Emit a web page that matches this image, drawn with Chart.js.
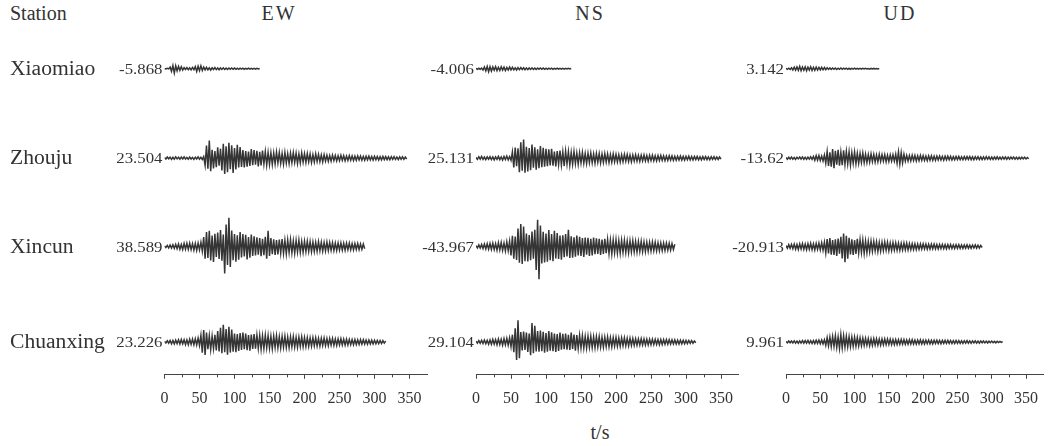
<!DOCTYPE html>
<html>
<head>
<meta charset="utf-8">
<script src="https://cdn.jsdelivr.net/npm/chart.js@4.4.0/dist/chart.umd.min.js"></script>
<style>
  body { margin: 0; background: #fff; width: 1048px; height: 446px; position: relative; overflow: hidden;
         font-family: "Liberation Serif", serif; color: #333; }
  .panel { position: absolute; top: 0; height: 446px; }
  .hdr { position: absolute; font-size: 20px; line-height: 20px; white-space: nowrap; }
  .mid { transform: translateX(-50%); letter-spacing: 2px; }
</style>
</head>
<body>
<div class="hdr" style="left:10px;top:3px;">Station</div>
<div class="hdr mid" style="left:279px;top:3px;">EW</div>
<div class="hdr mid" style="left:590px;top:3px;">NS</div>
<div class="hdr mid" style="left:900px;top:3px;">UD</div>
<div class="hdr mid" style="left:600px;top:422px;letter-spacing:0;">t/s</div>

<div class="panel" style="left:0;width:440px;"><canvas id="ewChart"></canvas></div>
<div class="panel" style="left:400px;width:350px;"><canvas id="nsChart"></canvas></div>
<div class="panel" style="left:720px;width:328px;"><canvas id="udChart"></canvas></div>

<script>
const DT = 2;
const tickStep = 50;

const stations = ['Xiaomiao', 'Zhouju', 'Xincun', 'Chuanxing'];
const ewPeaks = ['-5.868', '23.504', '38.589', '23.226'];
const nsPeaks = ['-4.006', '25.131', '-43.967', '29.104'];
const udPeaks = ['3.142', '-13.62', '-20.913', '9.961'];

// acceleration traces, cm/s2, one value every DT seconds
const ewXiaomiao = [0.3,-0.4,0.5,-0.3,
  2.1,-3.4,4.2,-5.868,3.9,-2.8,3.1,-2.2,2.6,-1.9,
  1.4,-1.1,1.6,-1.3,1.2,-1.5,1.8,-1.2,
  2.9,-3.6,3.3,-2.7,3.8,-2.4,2.2,
  -1.6,1.9,-1.4,1.2,-1.7,1.3,-1.1,1.5,-1.2,1.0,-1.3,1.1,-0.9,1.2,-1.0,0.8,-1.1,0.9,-0.8,1.0,
  -0.7,0.9,-0.8,0.6,-0.9,0.7,-0.6,0.8,-0.7,0.5,-0.6,0.7,-0.5,0.6,-0.5,0.4,-0.6,0.5,-0.4,0.3];
const ewZhouju = [0.8,-1.2,1.5,-0.9,1.3,-1.6,1.1,-1.4,1.7,-1.0,1.2,-1.5,1.4,-1.1,1.6,-1.3,0.9,-1.4,1.5,-1.2,
  1.0,-1.6,1.3,-1.1,1.8,-1.4,1.2,-1.7,2.1,
  -9.5,16.8,-14.2,23.504,-17.6,
  11.3,-13.8,9.6,-12.1,14.5,-10.2,12.7,
  -16.4,19.3,-21.2,15.8,-18.7,20.6,-14.9,17.2,-19.8,13.6,-15.1,17.9,-12.4,14.8,-11.7,
  10.9,-12.3,9.4,-11.6,8.7,-10.5,12.1,-9.3,10.8,-8.6,9.9,-11.2,8.4,-9.7,10.3,-7.9,8.8,-9.1,7.6,-8.3,
  7.2,-8.5,6.9,-7.8,8.1,-6.4,7.5,-7.1,6.2,-8.0,7.7,-6.6,5.9,-7.3,6.8,-6.1,7.4,-5.8,6.5,-7.0,5.6,-6.3,6.9,-5.4,6.0,
  -5.7,6.2,-4.9,5.5,-6.0,4.7,-5.2,5.8,-4.5,5.1,-4.8,4.3,-5.0,4.6,-4.1,
  3.8,-4.2,3.5,-3.9,4.0,-3.3,3.6,-3.7,3.1,-3.4,3.8,-2.9,3.3,-3.5,2.8,-3.1,3.4,-2.7,3.0,-3.2,
  2.6,-2.9,3.1,-2.5,2.8,-2.7,2.4,-2.9,2.6,-2.3,2.7,-2.4,2.2,-2.6,2.5,-2.1,2.3,-2.4,2.0,-2.2,
  2.4,-1.9,2.1,-2.0,1.8,-2.1,1.9,-1.7,2.0,-1.8,1.6,-1.9,1.7,-1.5,1.8,-1.6,1.4,-1.2];
const ewXincun = [0.9,-1.3,1.6,-1.8,2.2,-1.9,2.6,-2.4,3.1,-2.8,3.4,-3.6,2.9,-3.9,4.2,-3.5,4.4,-3.8,4.6,-4.1,
  3.9,-4.7,4.3,-5.0,4.8,-4.4,5.6,-6.2,
  12.8,-16.4,19.7,-15.2,21.3,-18.6,14.9,-20.5,17.1,-13.8,18.9,-16.6,22.4,-19.1,16.3,
  -36.2,29.8,-24.5,38.589,-27.3,
  21.6,-18.4,16.9,-20.2,15.3,-17.7,19.4,-14.6,16.8,-13.2,15.7,-17.1,12.9,-14.8,16.2,-12.4,13.7,-11.8,
  12.5,-10.9,11.6,-12.8,10.3,-11.4,13.2,
  -16.2,21.1,-12.7,
  11.4,-10.1,9.8,-11.2,8.9,-10.4,9.6,-8.7,10.2,-9.1,8.3,-9.8,8.8,-7.9,9.3,-8.4,7.6,-8.9,8.1,-7.3,8.6,-7.7,6.9,-7.5,7.2,
  -6.8,7.1,-6.4,6.7,-6.9,6.1,-6.5,5.8,-6.2,6.4,-5.6,6.0,-5.9,5.4,-5.7,5.9,-5.2,5.5,-5.0,5.3,
  -5.4,4.8,-5.1,4.9,-4.6,5.0,-4.7,4.4,-4.8,4.5,-4.2,4.6,-4.3,4.0,-4.4,4.1,-3.8,4.2,-3.9,3.6,-3.7,3.4,-2.8];
const ewChuanxing = [0.9,-1.4,1.8,-1.6,2.1,-2.4,2.0,-2.7,2.5,-2.2,3.0,-2.8,3.3,-2.6,3.1,-3.4,2.9,-3.6,3.8,-3.2,
  4.0,-3.7,4.3,-4.0,5.1,-4.6,
  8.7,-14.2,16.1,-17.4,12.8,
  -9.6,8.4,-10.1,7.9,-8.8,9.5,-11.3,
  14.7,-12.6,18.9,-15.1,23.226,-13.8,17.5,-16.9,20.3,-14.2,16.6,
  -12.9,11.4,-13.6,10.8,-12.1,11.9,-10.5,12.7,-9.8,11.2,-10.9,9.4,-11.6,10.1,-9.2,10.6,-8.8,
  9.3,-8.4,8.9,-9.6,8.1,-8.7,9.2,-7.8,8.5,-8.2,7.6,-8.9,7.9,-7.3,8.4,-7.7,7.1,-8.0,7.5,-6.9,
  7.8,-7.2,6.6,-7.4,7.0,-6.4,7.2,-6.7,6.2,-6.9,6.5,-6.0,6.7,-6.2,5.8,
  -6.1,5.7,-5.9,5.4,-5.6,5.8,-5.1,5.5,-5.3,4.9,-5.4,5.0,-4.7,5.2,-4.8,4.5,-5.0,4.6,-4.3,4.8,
  -4.4,4.1,-4.6,4.2,-3.9,4.4,-4.0,3.8,-4.1,3.7,
  -3.8,3.5,-3.6,3.3,-3.5,3.2,-3.4,3.0,-3.2,3.1,-2.9,3.0,-2.8,2.7,-2.9,2.6,-2.7,2.5,-2.6,2.3,
  -2.4,2.2,-2.3,2.0,-2.1,1.8,-1.5,1.1];

const nsXiaomiao = [0.5,-0.7,0.6,-0.8,0.9,
  -1.8,2.3,-2.9,3.1,-4.006,2.7,-3.2,2.4,-2.1,2.8,-2.5,1.9,-2.3,2.6,-1.8,2.1,-2.4,1.7,-1.9,2.2,
  -1.6,1.8,-1.5,1.3,-1.7,
  1.4,-1.2,1.5,-1.1,1.3,-1.4,1.0,-1.2,1.1,-0.9,1.2,-1.0,0.8,-1.1,0.9,-0.8,1.0,-0.7,0.9,-0.8,
  0.6,-0.9,0.7,-0.6,0.8,-0.7,0.5,-0.6,0.7,-0.5,0.6,-0.5,0.4,-0.6,0.5,-0.4,0.5,-0.3,0.4];
const nsZhouju = [1.1,-1.6,1.9,-1.3,2.2,-1.8,1.5,-2.1,1.7,-1.4,2.0,-1.9,1.6,-2.3,1.8,-1.5,2.4,-2.0,1.7,-2.6,
  2.2,-1.9,2.8,-2.4,2.1,-3.0,
  8.4,-12.6,14.1,-10.8,13.2,
  -18.9,21.4,-16.7,25.131,-19.5,
  15.2,-17.8,13.6,-16.1,18.3,-12.9,14.7,-15.5,11.8,-13.4,16.2,-12.1,13.9,-11.3,12.6,
  -10.7,11.9,-9.8,12.4,-10.2,8.9,-11.1,9.6,-8.4,10.3,-9.1,8.2,-10.6,9.4,-7.8,8.7,-9.3,7.5,-8.1,8.8,
  -7.4,6.9,-8.0,7.2,-6.5,7.7,-6.8,6.1,-7.3,6.6,-5.9,7.0,-6.2,5.7,-6.7,6.3,-5.5,6.0,-6.4,5.3,
  -5.8,6.1,-5.1,5.6,-5.9,4.9,-5.4,5.7,-4.8,5.2,
  -5.0,4.6,-5.3,4.4,-4.7,5.1,-4.2,4.8,-4.5,4.1,-4.9,4.3,-3.9,4.6,-4.1,3.8,-4.4,4.0,-3.6,4.2,
  -3.8,3.5,-4.0,3.7,-3.3,3.9,-3.5,3.2,-3.6,3.4,
  -3.1,3.5,-2.9,3.2,-3.3,2.8,-3.0,3.1,-2.6,2.9,-3.0,2.5,-2.8,2.7,-2.4,2.9,-2.6,2.3,-2.7,2.5,
  -2.2,2.6,-2.4,2.1,-2.5,2.3,-2.0,2.4,-2.2,1.9,-2.3,2.1,-1.8,2.2,-2.0,1.7,-2.1,1.9,-1.6,2.0,
  -1.8,1.5,-1.7,1.6,-1.2];
const nsXincun = [1.2,-1.8,2.3,-2.0,2.9,-2.6,3.4,-3.1,3.8,-3.5,4.2,-3.7,4.6,-4.1,3.9,-4.8,5.2,-4.4,5.7,-5.0,
  4.8,-5.9,6.3,-5.4,7.1,
  -11.8,14.6,-16.2,13.4,-17.9,
  24.3,-21.7,30.2,-23.4,26.8,-19.6,
  17.4,-19.8,15.6,-18.2,20.1,-16.4,22.7,
  -31.5,36.1,-43.967,28.4,
  -22.6,19.8,-21.3,17.6,-20.4,22.1,-18.3,16.9,-19.7,21.4,-15.8,18.2,-16.7,14.9,-17.5,15.3,
  -14.2,16.8,-13.1,22.6,-15.4,
  13.7,-14.9,12.4,-13.6,14.8,-11.9,13.2,-12.7,11.4,-13.8,12.1,-10.9,11.7,-12.4,10.5,-11.8,12.0,-10.2,11.1,-9.8,
  10.6,-11.3,9.5,
  -9.9,10.4,-8.8,9.6,-9.3,8.5,-9.7,8.9,-8.2,9.1,-8.6,7.9,-8.8,8.3,-7.6,8.5,-7.9,7.3,-8.1,7.6,
  -7.0,7.8,-7.2,6.8,-7.4,6.9,-6.5,7.1,-6.7,6.3,
  -6.6,6.0,-6.2,5.7,-5.9,6.1,-5.4,5.8,-5.6,5.2,-5.5,5.0,-5.3,4.8,-5.1,4.6,-4.9,4.4,-4.6,4.1,-3.8,3.2];
const nsChuanxing = [1.1,-1.5,1.9,-1.7,2.3,-2.0,2.6,-2.4,2.2,-2.9,2.7,-3.1,3.4,-2.8,3.2,-3.6,3.9,-3.3,3.7,-4.1,
  4.4,-3.8,4.9,-4.3,5.5,-6.2,
  9.8,-13.6,18.4,-24.1,29.104,-21.7,
  13.2,-11.4,14.1,-10.6,12.8,-13.5,11.2,
  -17.6,25.3,-14.9,21.8,-12.7,
  14.6,-13.1,15.2,-12.4,13.8,-14.3,12.1,-13.0,14.7,-11.6,12.9,-12.2,11.3,-13.4,10.8,-11.9,12.5,-10.4,
  10.9,-9.8,11.4,-10.2,9.6,-10.8,12.6,-9.3,10.1,-11.7,9.2,
  -8.6,8.9,-7.9,8.4,-8.2,7.5,-8.0,7.8,-7.2,7.6,-7.4,6.9,-7.6,7.1,-6.6,7.3,-6.8,6.3,-7.0,6.5,
  -6.1,6.7,-6.2,5.8,-6.4,5.9,-5.6,6.0,-5.7,5.3,-5.8,5.4,-5.0,5.5,-5.2,4.8,-5.3,4.9,
  -4.7,4.6,-4.5,4.3,-4.4,4.1,-4.2,4.3,-3.9,4.1,-4.0,3.8,-3.9,3.7,-3.6,3.8,-3.5,3.6,-3.4,3.3,
  -3.5,3.2,-3.3,3.1,-3.0,3.2,-2.9,3.0,-2.8,2.9,-2.7,2.8,-2.6,2.5,-2.7,2.4,-2.5,2.3,-2.4,2.2,
  -2.1,2.0,-1.9,1.8,-1.6,1.3,-1.0];

const udXiaomiao = [0.6,-0.8,0.7,-0.9,1.2,
  -1.6,2.1,-1.9,2.4,-2.2,3.142,-2.6,2.3,-2.0,2.5,-2.8,2.2,-1.8,2.7,-2.4,1.9,-2.1,2.3,-1.7,1.8,
  -1.5,1.9,-1.4,1.6,-1.3,1.2,
  -1.0,1.1,-0.9,1.0,-0.8,0.9,-1.0,0.7,-0.8,0.9,-0.7,0.8,-0.6,0.7,-0.8,0.6,-0.7,0.5,-0.6,0.7,
  -0.5,0.6,-0.5,0.4,-0.6,0.5,-0.4,0.5,-0.4,0.3,-0.5,0.4,-0.3,0.4,-0.3,0.3,-0.2,0.3];
const udZhouju = [1.0,-1.4,1.2,-1.1,1.5,-1.3,0.9,-1.6,1.3,-1.0,1.4,-1.2,1.6,-1.5,1.1,-1.7,1.4,-1.3,1.8,-1.5,
  2.4,-2.9,3.3,-2.6,3.6,-3.1,2.8,-3.8,4.2,
  -6.8,8.9,-10.4,7.7,-11.6,12.1,-13.62,9.8,-8.7,11.3,-10.1,7.9,-9.4,10.6,-8.2,9.1,-7.6,8.4,-9.0,7.2,
  -6.8,8.1,-7.4,6.5,-7.0,6.2,-5.8,6.9,-6.1,
  5.4,-5.9,4.8,-5.3,5.7,-4.6,5.0,-5.4,4.4,-4.9,5.2,-4.3,4.7,-4.1,4.5,-4.8,3.9,-4.4,4.2,-3.8,4.6,-4.0,5.1,
  -6.7,8.3,-7.9,7.4,-6.2,5.3,
  -4.1,3.7,-3.9,3.4,-3.6,3.9,-3.2,3.5,-3.8,3.1,-3.4,3.6,-2.9,3.3,-3.1,2.8,-3.4,3.0,-2.7,3.2,
  -2.9,2.6,-3.0,2.8,-2.5,2.9,-2.6,2.4,-2.7,
  2.5,-2.3,2.6,-2.1,2.4,-2.5,2.0,-2.3,2.2,-1.9,2.4,-2.1,1.8,-2.2,2.0,-1.9,2.1,-1.7,2.2,-2.0,
  1.8,-2.1,1.9,-1.6,2.0,-1.8,1.7,-1.9,1.6,-1.8,1.9,-1.5,1.7,-1.8,1.5,-1.7,1.6,-1.4,1.8,-1.6,
  1.4,-1.5,1.7,-1.3,1.5,-1.6,1.3,-1.4,1.5,-1.2,1.4,-1.3,1.1,-1.4,1.2,-1.1,1.3,-1.0,1.2,-1.1,0.9,-0.8];
const udXincun = [1.4,-2.1,2.6,-2.3,3.0,-2.8,3.3,-3.5,2.9,-3.8,3.6,-3.2,4.1,-3.7,3.4,-4.2,3.9,-3.6,4.4,-4.0,
  3.7,-4.5,4.1,-3.8,4.6,-4.3,5.2,-4.8,5.9,
  -8.4,10.2,-9.1,11.6,-10.7,8.9,-11.3,9.7,-12.4,10.8,-9.5,
  13.1,-15.8,17.4,-20.913,14.6,-16.2,
  11.8,-10.4,9.7,-11.2,8.6,-9.9,10.3,-8.4,9.1,-7.8,8.7,-9.2,7.5,-8.1,7.0,
  -6.8,7.3,-6.2,6.9,-5.8,6.4,-6.7,5.6,-6.1,5.9,-5.4,6.2,-5.0,5.7,-5.5,4.9,-5.3,5.4,-4.7,5.1,
  -4.9,4.5,-5.0,4.3,-4.6,4.8,-4.2,4.5,-4.4,4.0,
  -4.1,3.8,-3.9,3.6,-4.0,3.4,-3.7,3.5,-3.3,3.6,-3.2,3.4,-3.5,3.1,-3.3,3.2,-2.9,3.3,-3.0,2.8,
  -3.1,2.9,-2.7,3.0,-2.8,2.6,-2.9,2.7,-2.5,2.8,-2.6,2.4,-2.7,2.5,-2.3,2.6,-2.4,2.2,-2.5,2.3,
  -2.1,2.4,-2.2,2.0,-2.3,2.1,-1.9,2.2,-2.0,1.8,-1.9,1.6,-1.2];
const udChuanxing = [0.8,-1.1,1.3,-1.0,1.4,-1.2,1.6,-1.5,1.3,-1.7,1.5,-1.4,1.8,-1.6,1.9,-1.5,2.0,-1.8,1.7,-2.1,
  1.9,-2.2,2.4,-2.0,2.6,-2.3,2.8,-2.5,3.1,
  -4.6,5.8,-5.2,6.7,-6.1,7.4,-5.9,8.2,-7.3,6.8,-8.6,9.961,-7.7,8.4,-6.9,7.6,-6.5,7.1,-6.2,6.6,
  -5.8,6.3,-5.5,6.0,-5.2,5.6,-4.9,
  5.1,-4.6,4.9,-4.4,4.7,-4.8,4.2,-4.5,4.4,-4.0,4.3,-4.1,3.8,-4.2,3.9,-3.7,4.0,-3.6,3.8,-3.4,
  3.7,-3.5,3.2,-3.6,3.3,
  -3.4,3.1,-3.2,3.3,-2.9,3.1,-3.0,2.8,-3.1,2.9,-2.7,3.0,-2.8,2.6,-2.9,2.7,-2.5,2.8,-2.6,2.4,
  -2.7,2.5,-2.3,2.6,-2.4,2.2,-2.5,2.3,-2.1,2.4,-2.2,2.0,-2.3,2.1,-1.9,
  2.2,-2.0,2.1,-1.9,2.0,-2.1,1.8,-1.9,2.0,-1.7,1.9,-1.8,1.6,-1.9,1.7,-1.5,1.8,-1.6,1.4,-1.7,
  1.5,-1.3,1.6,-1.4,1.2,-1.5,1.3,-1.1,1.4,-1.2,1.0,-1.3,1.1,-0.9,1.2,-1.0,0.8,-1.1,0.9,-0.7,0.8,-0.6,0.4];

const ewTraces = [ewXiaomiao, ewZhouju, ewXincun, ewChuanxing];
const nsTraces = [nsXiaomiao, nsZhouju, nsXincun, nsChuanxing];
const udTraces = [udXiaomiao, udZhouju, udXincun, udChuanxing];

// amplitude range of each row (same scale for all rows, lower rows sit a little lower)
const rowRange = [[-58.7, 58.7], [-56, 61.3], [-54.7, 62.7], [-44, 73.3]];

// peak values, station names and the small ticks at 25, 75 ...
const traceLabels = {
    id: 'traceLabels',
    afterDatasetsDraw(chart, args, opts) {
        const ctx = chart.ctx;
        const xs = chart.scales.x;
        const x0 = xs.getPixelForValue(0);
        ctx.save();
        ctx.fillStyle = '#333';
        ctx.textBaseline = 'middle';
        chart.data.datasets.forEach((ds, i) => {
            const y0 = chart.scales[ds.yAxisID].getPixelForValue(0);
            ctx.save();
            ctx.translate(x0 - 2, y0 + 1);
            ctx.scale(1.12, 1);
            ctx.font = '15px "Liberation Serif"';
            ctx.textAlign = 'right';
            ctx.fillText(opts.peaks[i], 0, 0);
            ctx.restore();
            if (opts.names) {
                ctx.save();
                ctx.translate(10, y0 + 1);
                ctx.scale(1.08, 1);
                ctx.font = '20px "Liberation Serif"';
                ctx.textAlign = 'left';
                ctx.fillText(opts.names[i], 0, 0);
                ctx.restore();
            }
        });
        ctx.strokeStyle = '#444';
        ctx.lineWidth = 1;
        ctx.beginPath();
        for (let v = tickStep / 2; v < xs.max; v += tickStep) {
            const x = Math.round(xs.getPixelForValue(v)) + 0.5;
            ctx.moveTo(x, xs.top);
            ctx.lineTo(x, xs.top + 2.5);
        }
        ctx.stroke();
        ctx.restore();
    }
};

function createPanel(id, traces, peaks, names, padLeft, padRight) {
    const scales = {
        x: {
            type: 'linear',
            position: 'bottom',
            min: 0,
            max: 375,
            border: { display: true, color: '#444', width: 1 },
            grid: { display: true, drawOnChartArea: false, drawTicks: true, tickLength: 4, tickColor: '#444' },
            ticks: {
                stepSize: tickStep,
                includeBounds: false,
                autoSkip: false,
                maxRotation: 0,
                padding: 10,
                color: '#333',
                font: { family: 'Liberation Serif', size: 16 }
            }
        }
    };
    // stacked rows are laid out bottom-up, so add the last station first
    for (let i = traces.length - 1; i >= 0; i--) {
        scales['y' + i] = {
            type: 'linear',
            display: false,
            position: 'left',
            stack: 'rows',
            stackWeight: 1,
            min: rowRange[i][0],
            max: rowRange[i][1]
        };
    }

    const ctx = document.getElementById(id).getContext('2d');
    return new Chart(ctx, {
        type: 'line',
        data: {
            datasets: traces.map((t, i) => ({
                data: t.map((v, k) => ({ x: k * DT, y: v })),
                yAxisID: 'y' + i,
                borderColor: 'rgba(25,25,25,0.88)',
                borderWidth: 1.5,
                pointRadius: 0,
                tension: 0,
                fill: false
            }))
        },
        options: {
            responsive: true,
            maintainAspectRatio: false,
            animation: false,
            events: [],
            layout: { padding: { left: padLeft, right: padRight, top: 25, bottom: 28 } },
            scales: scales,
            plugins: {
                legend: { display: false },
                tooltip: { enabled: false },
                traceLabels: { peaks: peaks, names: names }
            }
        },
        plugins: [traceLabels]
    });
}

window.onload = function () {
    createPanel('ewChart', ewTraces, ewPeaks, stations, 164.5, 13);
    createPanel('nsChart', nsTraces, nsPeaks, null, 76, 11.5);
    createPanel('udChart', udTraces, udPeaks, null, 66, 0);
};
</script>
</body>
</html>
